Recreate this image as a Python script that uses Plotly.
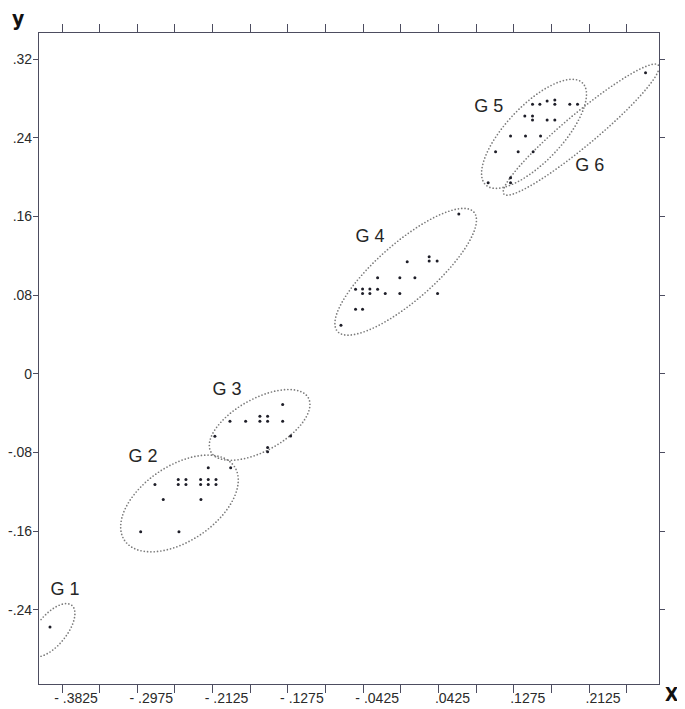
import numpy as np
import plotly.graph_objects as go

# ---------------- data ----------------
g1_x = [-0.3961]
g1_y = [-0.2575]

g2_x = [-0.2174, -0.1921, -0.2776, -0.2513, -0.2426, -0.2513, -0.2426,
        -0.2260, -0.2174, -0.2087, -0.2260, -0.2174, -0.2087,
        -0.2682, -0.2257, -0.2937, -0.2505]
g2_y = [-0.0957, -0.0957, -0.1126, -0.1075, -0.1075, -0.1126, -0.1126,
        -0.1075, -0.1075, -0.1075, -0.1126, -0.1126, -0.1126,
        -0.1279, -0.1279, -0.1608, -0.1608]

g3_x = [-0.1334, -0.1929, -0.1752, -0.1591, -0.1504, -0.1591, -0.1504,
        -0.1334, -0.2099, -0.1244, -0.1504, -0.1504]
g3_y = [-0.0312, -0.0482, -0.0482, -0.0431, -0.0431, -0.0482, -0.0482,
        -0.0482, -0.0635, -0.0632, -0.0750, -0.0794]

g4_x = [0.0655, 0.0072, 0.0320, 0.0320, 0.0410, -0.0262, -0.0011, 0.0159,
        -0.0511, -0.0432, -0.0349, -0.0432, -0.0349, -0.0262, -0.0176,
        -0.0011, 0.0415, -0.0511, -0.0432, -0.0676]
g4_y = [0.1624, 0.1138, 0.1189, 0.1146, 0.1146, 0.0976, 0.0976, 0.0976,
        0.0858, 0.0861, 0.0861, 0.0817, 0.0817, 0.0858, 0.0817,
        0.0817, 0.0817, 0.0657, 0.0657, 0.0494]

g5_x = [0.1487, 0.1570, 0.1652, 0.1739, 0.1739, 0.1908, 0.1995,
        0.1400, 0.1487, 0.1487, 0.1652, 0.1739,
        0.1239, 0.1408, 0.1578, 0.1070, 0.1325, 0.1494, 0.0986]
g5_y = [0.2740, 0.2740, 0.2773, 0.2783, 0.2740, 0.2740, 0.2740,
        0.2621, 0.2621, 0.2580, 0.2580, 0.2580,
        0.2417, 0.2417, 0.2417, 0.2258, 0.2258, 0.2258, 0.1942]

g6_x = [0.1239, 0.1239, 0.2763]
g6_y = [0.1993, 0.1942, 0.3061]

group_names = ["G 1", "G 2", "G 3", "G 4", "G 5", "G 6"]
label_x = [-0.3792, -0.2911, -0.1963, -0.0349, 0.0994, 0.2134]
label_y = [-0.2201, -0.0848, -0.0167, 0.1390, 0.2712, 0.2112]

# ellipses: centre and two conjugate semi-diameters (data units)
ell_cx = [-0.3942, -0.2499, -0.1594, 0.0055, 0.1504, 0.2036]
ell_cy = [-0.2608, -0.1319, -0.0520, 0.1037, 0.2440, 0.2483]
ell_ax = [0.02273, 0.06202, 0.05499, 0.07706, 0.05462, 0.08724]
ell_ay = [0.02530, 0.03756, 0.02747, 0.06059, 0.05188, 0.06550]
ell_bx = [-0.01316, -0.02367, -0.01428, -0.02122, -0.02292, -0.01156]
ell_by = [0.00960, 0.03175, 0.02322, 0.02192, 0.01961, 0.01250]

x_tick_vals = [-0.3825, -0.34, -0.2975, -0.255, -0.2125, -0.17, -0.1275, -0.085,
               -0.0425, 0.0, 0.0425, 0.085, 0.1275, 0.17, 0.2125, 0.255]
x_tick_text = ["- .3825", "", "- .2975", "", "- .2125", "", "- .1275", "",
               "- .0425", "", ".0425", "", ".1275", "", ".2125", ""]
y_tick_vals = [0.32, 0.24, 0.16, 0.08, 0.0, -0.08, -0.16, -0.24]
y_tick_text = [".32", ".24", ".16", ".08", "0", "-.08", "-.16", "-.24"]

# ---------------- layout constants ----------------
# (the page body adds an 8 px offset, margins compensate for it)
W, H = 685, 709
MARGIN = dict(l=31, r=34, t=25, b=33)
X_RANGE = [-0.4085, 0.2915]
Y_RANGE = [-0.3155, 0.3465]
sx = (W - MARGIN["l"] - MARGIN["r"]) / (X_RANGE[1] - X_RANGE[0])
sy = (H - MARGIN["t"] - MARGIN["b"]) / (Y_RANGE[1] - Y_RANGE[0])
AXIS_COL = "#4d4d60"
FONT = "Liberation Sans, Arial, sans-serif"
BOLD_FONT = "Liberation Sans Narrow, DejaVu Sans Condensed, Arial"

fig = go.Figure()


def ellipse_dots(cx, cy, ax, ay, bx, by, spacing=3.3):
    t = np.linspace(0, 2 * np.pi, 4000)
    ex = cx + np.cos(t) * ax + np.sin(t) * bx
    ey = cy + np.cos(t) * ay + np.sin(t) * by
    d = np.hypot(np.diff(ex) * sx, np.diff(ey) * sy)
    s = np.concatenate([[0], np.cumsum(d)])
    n = int(s[-1] / spacing)
    ss = np.linspace(0, s[-1], n, endpoint=False)
    return np.interp(ss, s, ex), np.interp(ss, s, ey)


for i in range(len(ell_cx)):
    dx, dy = ellipse_dots(ell_cx[i], ell_cy[i], ell_ax[i], ell_ay[i], ell_bx[i], ell_by[i])
    fig.add_trace(go.Scatter(x=dx, y=dy, mode="markers",
                             marker=dict(size=1.7, color="#7a7a7a"),
                             cliponaxis=False, hoverinfo="skip", showlegend=False))

for gx, gy in [(g1_x, g1_y), (g2_x, g2_y), (g3_x, g3_y), (g4_x, g4_y), (g5_x, g5_y), (g6_x, g6_y)]:
    fig.add_trace(go.Scatter(x=gx, y=gy, mode="markers",
                             marker=dict(size=3, color="#1e1e28"),
                             cliponaxis=False, showlegend=False))

fig.add_trace(go.Scatter(x=label_x, y=label_y, mode="text", text=group_names,
                         textfont=dict(family=FONT, size=18, color="#262626"),
                         cliponaxis=False, showlegend=False, hoverinfo="skip"))

fig.update_xaxes(range=X_RANGE, tickvals=x_tick_vals, ticktext=x_tick_text,
                 ticks="outside", ticklen=8, tickwidth=1, tickcolor=AXIS_COL,
                 showline=True, linecolor=AXIS_COL, linewidth=1.2, mirror="ticks",
                 showgrid=False, zeroline=False, ticklabelshift=14,
                 ticklabelstandoff=-7, automargin=False,
                 tickfont=dict(family=FONT, size=14, color="#2a2a2a"))
fig.update_yaxes(range=Y_RANGE, tickvals=y_tick_vals, ticktext=y_tick_text,
                 ticks="outside", ticklen=5, tickwidth=1, tickcolor=AXIS_COL,
                 showline=True, linecolor=AXIS_COL, linewidth=1.2, mirror="ticks",
                 showgrid=False, zeroline=False, ticklabelstandoff=-2,
                 automargin=False,
                 tickfont=dict(family=FONT, size=14, color="#2a2a2a"))

fig.add_annotation(text="<b>y</b>", xref="paper", yref="paper", x=-0.034, y=1.021,
                   xanchor="center", yanchor="middle", showarrow=False,
                   font=dict(family=BOLD_FONT, size=21, color="#111"))
fig.add_annotation(text="<b>X</b>", xref="paper", yref="paper", x=1.02, y=-0.0154,
                   xanchor="center", yanchor="middle", showarrow=False,
                   font=dict(family=BOLD_FONT, size=19, color="#111"))

fig.update_layout(width=W, height=H, margin=MARGIN, plot_bgcolor="white",
                  paper_bgcolor="white", showlegend=False)

fig.write_html("out.html")
